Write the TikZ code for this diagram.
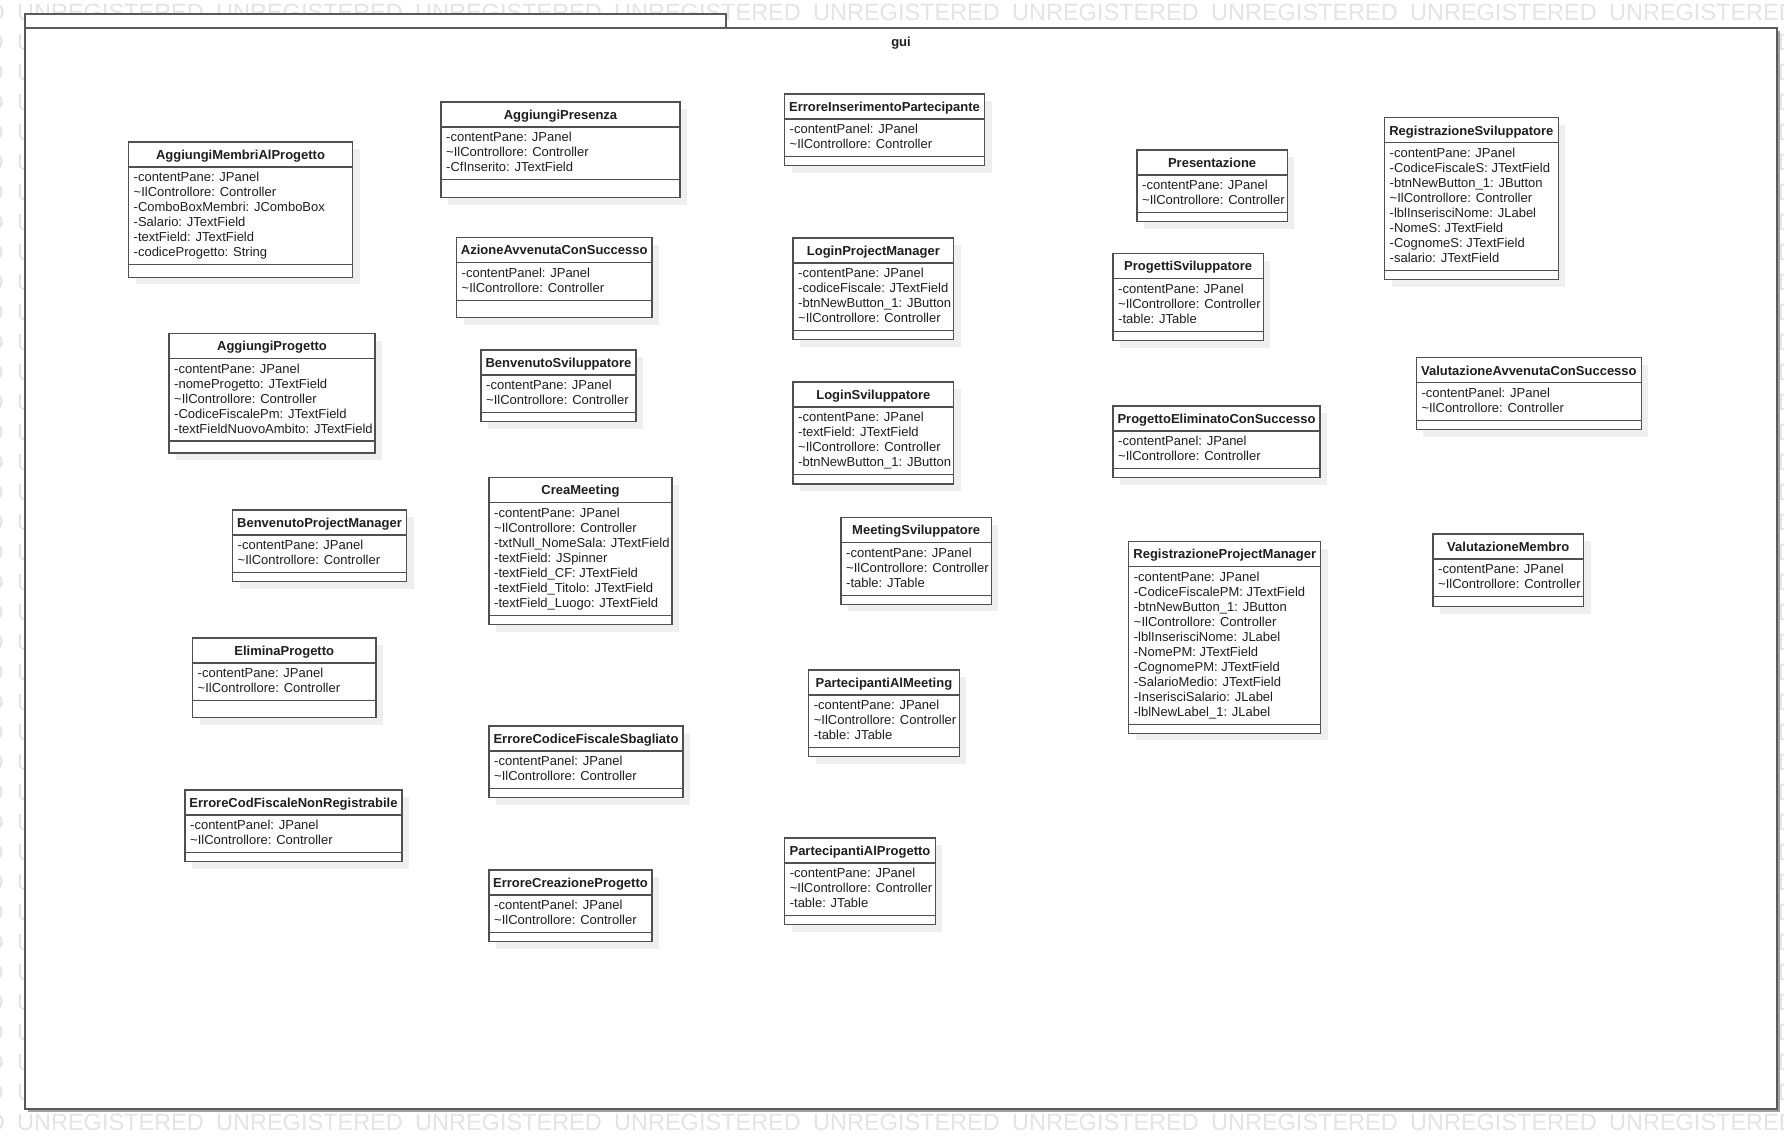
\documentclass[tikz,border=0pt]{standalone}
\usepackage{fontspec}
\setmainfont{Liberation Sans}

\definecolor{ink}{HTML}{1E1E1E}
\definecolor{boxline}{HTML}{505050}
\definecolor{boxshade}{HTML}{EFEFEF}
\definecolor{framecol}{HTML}{5A5A5A}
\definecolor{framedrop}{HTML}{A0A0A0}
\definecolor{stamp}{HTML}{E4E4E4}

\newcommand{\tld}{\textasciitilde}
\newcommand{\stampword}{\makebox[199pt][l]{UNREGISTERED}}
\newcommand{\stampline}{\stampword\stampword\stampword\stampword\stampword
  \stampword\stampword\stampword\stampword\stampword\stampword}

\tikzset{
  box/.style={draw=boxline, fill=white, line width=1.1pt, inner sep=0pt, outer sep=0pt, anchor=north west},
  boxshadow/.style={fill=boxshade, draw=none, inner sep=0pt, outer sep=0pt, anchor=north west},
  sep/.style={draw=boxline, line width=1.1pt},
  ttl/.style={font=\bfseries\fontsize{13}{15}\selectfont, text=ink, anchor=base, inner sep=0pt,
    text height=9.5pt, text depth=2.8pt},
  attr/.style={font=\fontsize{13}{15}\selectfont, text=ink, anchor=base west, inner sep=0pt,
    text height=9.5pt, text depth=2.8pt},
  stampsty/.style={font=\fontsize{23.5}{26}\selectfont, text=stamp, inner sep=0pt,
    text height=17pt, text depth=0pt},
  frame/.style={draw=framecol, fill=white, line width=1.3pt, inner sep=0pt, outer sep=0pt, anchor=north west},
}

% #1 name, #2 left, #3 top, #4 width, #5 number of attributes,
% #6 height of the operations compartment, #7 class name, #8 attributes
\newcommand{\umlclass}[8]{%
  \pgfmathsetmacro{\bh}{25+15*#5+7.5+#6}%
  \node[boxshadow, minimum width=#4pt, minimum height=\bh pt] (#1-sh) at (#2+7,#3+7) {};
  \node[box, minimum width=#4pt, minimum height=\bh pt] (#1) at (#2,#3) {};
  \draw[sep] (#2,#3+25) -- ++(#4,0);
  \draw[sep] (#2,#3+25+15*#5+7.5) -- ++(#4,0);
  \node[ttl] (#1-t) at (#2+#4/2,#3+17.2) {#7};
  \foreach \a [count=\n] in {#8}
    \node[attr] (#1-a\n) at (#2+5,#3+39.5+15*\n-15) {\a};
}

\begin{document}
\begin{tikzpicture}[x={(1pt,0)}, y={(0,-1pt)}]
\useasboundingbox (0,0) rectangle (1784,1144);
\fill[white] (0,0) rectangle (1784,1144);

% evaluation stamp: full rows above and below the package,
% word fragments in the side margins
\node[stampsty, anchor=base west] (wmtop) at (-182,20.5) {\stampline};
\node[stampsty, anchor=base west] (wmbot) at (-182,1130.5) {\stampline};
\foreach \r in {1,...,36}{
  \node[stampsty, anchor=base east] (wmld\r) at (4,20.5+30*\r) {D};
  \node[stampsty, anchor=base west] (wmlu\r) at (17,20.5+30*\r) {U};
  \node[stampsty, anchor=base east] (wmre\r) at (1795,20.5+30*\r) {ED};
}

% package "gui"
\node[frame, minimum width=701pt, minimum height=14pt] (tab) at (25,14) {};
\draw[framedrop, line width=1.5pt] (1778.8,31) -- (1778.8,1111) -- (28,1111);
\node[frame, minimum width=1752pt, minimum height=1081pt] (pkg) at (25,28) {};
\node[font=\bfseries\fontsize{13}{15}\selectfont, text=ink, anchor=base, inner sep=0pt] (pkgname) at (901,46) {gui};

% classes
\umlclass{amp}{128.5}{142}{224}{6}{12.7}{AggiungiMembriAlProgetto}
  {-contentPane: JPanel, \tld IlControllore: Controller, -ComboBoxMembri: JComboBox,
   -Salario: JTextField, -textField: JTextField, -codiceProgetto: String}
\umlclass{apres}{441}{102}{239}{3}{18}{AggiungiPresenza}
  {-contentPane: JPanel, \tld IlControllore: Controller, -CfInserito: JTextField}
\umlclass{aprog}{169}{333.5}{206}{5}{12}{AggiungiProgetto}
  {-contentPane: JPanel, -nomeProgetto: JTextField, \tld IlControllore: Controller,
   -CodiceFiscalePm: JTextField, -textFieldNuovoAmbito: JTextField}
\umlclass{aacs}{456.5}{237.7}{195.5}{2}{17.3}{AzioneAvvenutaConSuccesso}
  {-contentPanel: JPanel, \tld IlControllore: Controller}
\umlclass{bsv}{481}{350}{155}{2}{9}{BenvenutoSviluppatore}
  {-contentPane: JPanel, \tld IlControllore: Controller}
\umlclass{bpm}{232.5}{510}{174}{2}{9.3}{BenvenutoProjectManager}
  {-contentPane: JPanel, \tld IlControllore: Controller}
\umlclass{cm}{489}{477.7}{183}{7}{9.3}{CreaMeeting}
  {-contentPane: JPanel, \tld IlControllore: Controller, -txtNull\_NomeSala: JTextField,
   -textField: JSpinner, -textField\_CF: JTextField, -textField\_Titolo: JTextField,
   -textField\_Luogo: JTextField}
\umlclass{ep}{192.5}{638}{183.5}{2}{17.3}{EliminaProgetto}
  {-contentPane: JPanel, \tld IlControllore: Controller}
\umlclass{ecfs}{489}{726}{194}{2}{9.3}{ErroreCodiceFiscaleSbagliato}
  {-contentPanel: JPanel, \tld IlControllore: Controller}
\umlclass{ecfnr}{185}{790}{217}{2}{9}{ErroreCodFiscaleNonRegistrabile}
  {-contentPanel: JPanel, \tld IlControllore: Controller}
\umlclass{ecp}{489}{870}{163}{2}{9}{ErroreCreazioneProgetto}
  {-contentPanel: JPanel, \tld IlControllore: Controller}
\umlclass{eip}{784.5}{94}{200}{2}{9}{ErroreInserimentoPartecipante}
  {-contentPanel: JPanel, \tld IlControllore: Controller}
\umlclass{lpm}{793}{238}{160.7}{4}{9.3}{LoginProjectManager}
  {-contentPane: JPanel, -codiceFiscale: JTextField, -btnNewButton\_1: JButton,
   \tld IlControllore: Controller}
\umlclass{lsv}{793}{382}{160.7}{4}{9.5}{LoginSviluppatore}
  {-contentPane: JPanel, -textField: JTextField, \tld IlControllore: Controller,
   -btnNewButton\_1: JButton}
\umlclass{msv}{841}{517.7}{150.3}{3}{9}{MeetingSviluppatore}
  {-contentPane: JPanel, \tld IlControllore: Controller, -table: JTable}
\umlclass{pam}{808.6}{670}{150.7}{3}{9}{PartecipantiAlMeeting}
  {-contentPane: JPanel, \tld IlControllore: Controller, -table: JTable}
\umlclass{pap}{784.6}{838}{150.8}{3}{9}{PartecipantiAlProgetto}
  {-contentPane: JPanel, \tld IlControllore: Controller, -table: JTable}
\umlclass{pres}{1137}{150}{150.2}{2}{9}{Presentazione}
  {-contentPane: JPanel, \tld IlControllore: Controller}
\umlclass{psv}{1113}{253.7}{150.3}{3}{9.3}{ProgettiSviluppatore}
  {-contentPane: JPanel, \tld IlControllore: Controller, -table: JTable}
\umlclass{pecs}{1113}{406}{207}{2}{9.3}{ProgettoEliminatoConSuccesso}
  {-contentPanel: JPanel, \tld IlControllore: Controller}
\umlclass{rpm}{1128.7}{541.7}{192.2}{10}{9}{RegistrazioneProjectManager}
  {-contentPane: JPanel, -CodiceFiscalePM: JTextField, -btnNewButton\_1: JButton,
   \tld IlControllore: Controller, -lblInserisciNome: JLabel, -NomePM: JTextField,
   -CognomePM: JTextField, -SalarioMedio: JTextField, -InserisciSalario: JLabel,
   -lblNewLabel\_1: JLabel}
\umlclass{rsv}{1384.5}{117.8}{173.6}{8}{9.5}{RegistrazioneSviluppatore}
  {-contentPane: JPanel, -CodiceFiscaleS: JTextField, -btnNewButton\_1: JButton,
   \tld IlControllore: Controller, -lblInserisciNome: JLabel, -NomeS: JTextField,
   -CognomeS: JTextField, -salario: JTextField}
\umlclass{vacs}{1416.3}{357.9}{225.1}{2}{9.5}{ValutazioneAvvenutaConSuccesso}
  {-contentPanel: JPanel, \tld IlControllore: Controller}
\umlclass{vm}{1433}{534}{150.5}{2}{10}{ValutazioneMembro}
  {-contentPane: JPanel, \tld IlControllore: Controller}
\end{tikzpicture}
\end{document}
